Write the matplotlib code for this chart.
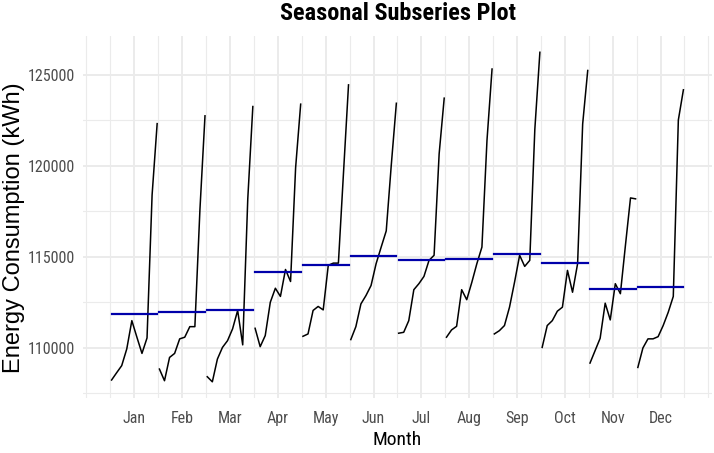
import numpy as np
import matplotlib
matplotlib.use("Agg")
import matplotlib.pyplot as plt

# monthly energy consumption, one value per year (10 years)
months = ["Jan", "Feb", "Mar", "Apr", "May", "Jun",
          "Jul", "Aug", "Sep", "Oct", "Nov", "Dec"]
jan = [108240, 108640, 109030, 109950, 111500, 110590, 109700, 110550, 118400, 122320]
feb = [108840, 108200, 109480, 109700, 110500, 110590, 111170, 111170, 117600, 122750]
mar = [108420, 108140, 109390, 110030, 110400, 111050, 112060, 110170, 118190, 123260]
apr = [111080, 110070, 110680, 112510, 113280, 112830, 114310, 113650, 119900, 123390]
may = [110640, 110770, 112060, 112280, 112090, 114540, 114660, 114660, 119580, 124450]
jun = [110460, 111170, 112420, 112880, 113430, 114630, 115540, 116430, 120060, 123440]
jul = [110810, 110860, 111500, 113200, 113530, 113930, 114810, 115090, 120660, 123720]
aug = [110590, 110990, 111190, 113200, 112650, 113600, 114630, 115540, 121400, 125320]
sep = [110770, 110950, 111230, 112240, 113620, 115090, 114480, 114810, 122000, 126240]
oct_ = [110030, 111230, 111500, 112020, 112240, 114260, 113060, 114630, 122300, 125240]
nov = [109170, 109850, 110530, 112460, 111540, 113530, 112980, 115640, 118240, 118190]
dec = [108930, 110000, 110500, 110500, 110620, 111230, 111960, 112830, 122520, 124180]

series = [jan, feb, mar, apr, may, jun, jul, aug, sep, oct_, nov, dec]

narrow = ["Roboto Condensed", "Liberation Sans", "DejaVu Sans"]

fig = plt.figure(figsize=(7.14, 4.53), dpi=100)
ax = fig.add_axes([83 / 714, 1 - 398.3 / 453, (712 - 83) / 714, (398.3 - 35.8) / 453])

nyears = len(jan)
width = (nyears - 1) * 1.05
for i, vals in enumerate(series, start=1):
    x = i + 0.025 + np.arange(nyears) / width
    ax.plot(x, vals, color="black", lw=1.1, zorder=3)
    ax.plot([x[0], x[-1]], [np.mean(vals)] * 2, color="#0000AA", lw=1.6, zorder=4)

allv = np.concatenate(series)
ymin, ymax = allv.min(), allv.max()
pad = (ymax - ymin) * 0.05
ax.set_ylim(ymin - pad, ymax + pad)
xlo, xhi = 1.025, 12 + 0.025 + 1 / 1.05
xpad = (xhi - xlo) * 0.05
ax.set_xlim(xlo - xpad, xhi + xpad)

major_x = np.arange(1, 13) + 0.5
ax.set_xticks(major_x)
ax.set_xticklabels(months)
ax.set_xticks([v for v in np.arange(0.5, 14.0, 0.5) if v not in major_x], minor=True)
ax.set_yticks([110000, 115000, 120000, 125000])
ax.set_yticks([107500, 112500, 117500, 122500], minor=True)

ax.grid(which="major", color="#EBEBEB", lw=1.4)
ax.grid(which="minor", color="#EBEBEB", lw=0.8)
ax.set_axisbelow(True)
for s in ax.spines.values():
    s.set_visible(False)
ax.tick_params(which="both", length=0)
ax.tick_params(axis="x", pad=9)
ax.tick_params(axis="y", pad=6)
for lab in ax.get_xticklabels() + ax.get_yticklabels():
    lab.set_family(narrow)
    lab.set_fontsize(11.5)
    lab.set_color("#4D4D4D")

ax.set_xlabel("Month", family=narrow, fontsize=14, labelpad=4)
fig.text(14 / 714, 1 - 228 / 453, "Energy Consumption (kWh)",
         family=["Liberation Sans", "DejaVu Sans"], fontsize=17,
         rotation=90, ha="center", va="center")
fig.text(398 / 714, 1 - 13 / 453, "Seasonal Subseries Plot", family=narrow,
         fontsize=17.5, fontweight="bold", ha="center", va="center")

fig.savefig("out.png", dpi=100, facecolor="white")
